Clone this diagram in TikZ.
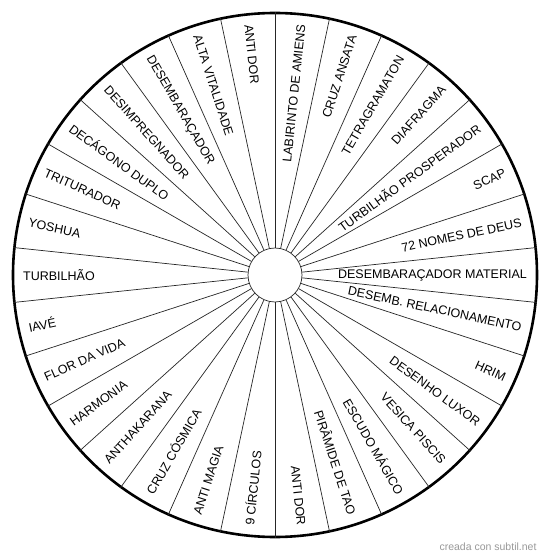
\documentclass[tikz,border=0pt]{standalone}
\usepackage{fontspec}
\setmainfont{Liberation Sans}
\begin{document}
\begin{tikzpicture}[x=1pt,y=1pt,
rlbl/.style={anchor=east,inner sep=0pt,font=\fontsize{12.5}{14}\selectfont},
llbl/.style={anchor=west,inner sep=0pt,font=\fontsize{12.5}{14}\selectfont},
spoke/.style={draw=black!85,line width=0.7pt}]
\useasboundingbox (-275,-284) rectangle (275,275);
\fill[white] (-275,-284) rectangle (275,275);
\node[circle,draw=black,line width=2.6pt,minimum size=524pt,inner sep=0pt] (rim) at (0,0) {};
\node[circle,draw=black!85,line width=0.7pt,minimum size=54pt,inner sep=0pt,fill=white] (hub) at (0,0) {};
\foreach \a in {6,18,...,354} \draw[spoke] (hub.\a) -- (rim.\a);
% right half, read outward
\foreach \a/\t [count=\i] in {84/LABIRINTO DE AMIENS,72/CRUZ ANSATA,60/TETRAGRAMATON,48/DIAFRAGMA,36/TURBILHÃO PROSPERADOR,24/SCAP,12/72 NOMES DE DEUS,0/DESEMBARAÇADOR MATERIAL,-12/DESEMB. RELACIONAMENTO,-24/HRIM,-36/DESENHO LUXOR,-48/VESICA PISCIS,-60/ESCUDO MÁGICO,-72/PIRÂMIDE DE TAO,-84/ANTI DOR}
  \node[rlbl,rotate=\a] (r\i) at (\a:252) {\t};
% left half, read inward
\foreach \a/\t [count=\i] in {96/ANTI DOR,108/ALTA VITALIDADE,120/DESEMBARAÇADOR,132/DESIMPREGNADOR,144/DECÁGONO DUPLO,156/TRITURADOR,168/YOSHUA,180/TURBILHÃO,192/IAVÉ,204/FLOR DA VIDA,216/HARMONIA,228/ANTHAKARANA,240/CRUZ CÓSMICA,252/ANTI MAGIA,264/9 CÍRCULOS}
  \node[llbl,rotate=\a-180] (l\i) at (\a:252) {\t};
\node[font=\fontsize{10.5}{12}\selectfont,text=black!40] (mark) at (213,-272) {creada con subtil.net};
\end{tikzpicture}
\end{document}
